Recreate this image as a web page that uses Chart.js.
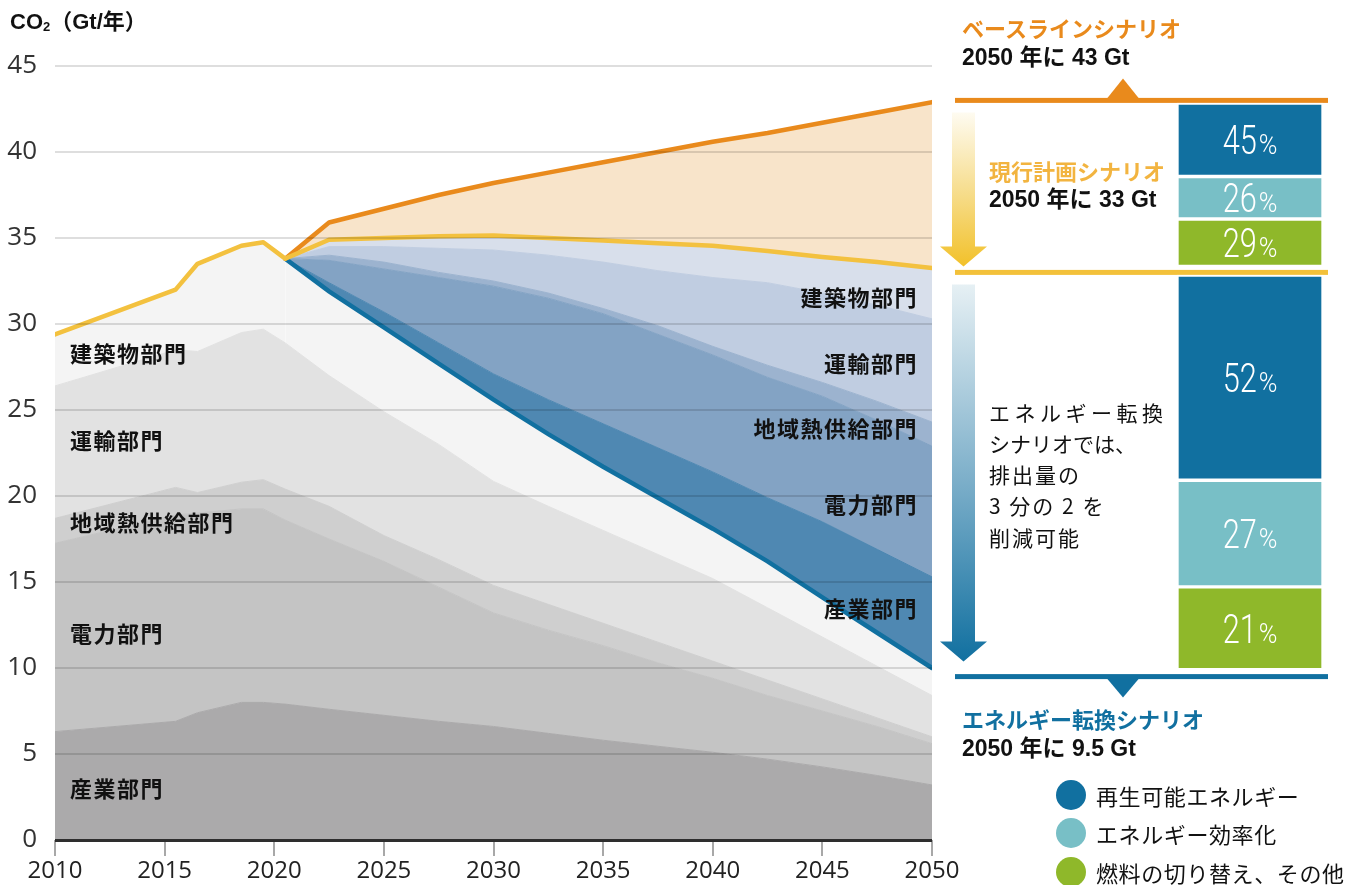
<!DOCTYPE html>
<html lang="ja">
<head>
<meta charset="utf-8">
<script src="https://cdn.jsdelivr.net/npm/chart.js@4.4.1/dist/chart.umd.min.js"></script>
<style>
html,body{margin:0;padding:0;background:#fff;}
#wrap{position:relative;width:1354px;height:885px;overflow:hidden;font-family:'Noto Sans CJK JP',sans-serif;}
#main{position:absolute;left:0;top:0;}
#bars{position:absolute;left:1177px;top:0;}
.t{position:absolute;white-space:nowrap;transform:translateY(-50%);line-height:1;z-index:2;}
.sec{font-family:'Noto Sans CJK JP',sans-serif;font-weight:700;font-size:22px;letter-spacing:1.5px;color:#111;}
.num{font-family:'Liberation Sans','Noto Sans CJK JP',sans-serif;font-weight:700;font-size:23px;color:#111;}
.hd{font-family:'Noto Sans CJK JP',sans-serif;font-weight:700;font-size:22px;}
.blk{font-family:'Noto Sans CJK JP',sans-serif;font-size:21px;letter-spacing:2px;color:#111;}
.lg{font-family:'Noto Sans CJK JP',sans-serif;font-size:22px;letter-spacing:0.6px;color:#111;}
.dot{position:absolute;width:30px;height:30px;border-radius:50%;transform:translate(-50%,-50%);}
.ttl{position:absolute;left:10px;top:22px;transform:translateY(-50%);font-family:'Liberation Sans','Noto Sans CJK JP',sans-serif;font-weight:700;font-size:22px;color:#111;white-space:nowrap;line-height:1;}
.ttl sub{font-size:13px;vertical-align:-2px;}
</style>
</head>
<body>
<div id="wrap">
  <canvas id="main" width="1354" height="885"></canvas>
  <canvas id="bars" width="146" height="885"></canvas>

  <div class="ttl">CO<sub>2</sub>（Gt/年）</div>

  <div class="t sec" style="left:70px;top:352px">建築物部門</div>
  <div class="t sec" style="left:70px;top:439px">運輸部門</div>
  <div class="t sec" style="left:70px;top:521px">地域熱供給部門</div>
  <div class="t sec" style="left:70px;top:632px">電力部門</div>
  <div class="t sec" style="left:70px;top:787px">産業部門</div>

  <div class="t sec" style="right:436px;top:296px">建築物部門</div>
  <div class="t sec" style="right:436px;top:362px">運輸部門</div>
  <div class="t sec" style="right:436px;top:427px">地域熱供給部門</div>
  <div class="t sec" style="right:436px;top:503px">電力部門</div>
  <div class="t sec" style="right:436px;top:607px">産業部門</div>

  <div class="t hd" style="left:962px;top:27px;color:#e98a1c">ベースラインシナリオ</div>
  <div class="t num" style="left:962px;top:57px">2050 年に 43 Gt</div>
  <div class="t hd" style="left:989px;top:170px;color:#f2b440">現行計画シナリオ</div>
  <div class="t num" style="left:989px;top:199px">2050 年に 33 Gt</div>

  <div class="t blk" style="left:989px;top:412px;letter-spacing:4.5px">エネルギー転換</div>
  <div class="t blk" style="left:989px;top:443px;letter-spacing:0px">シナリオでは、</div>
  <div class="t blk" style="left:989px;top:474px">排出量の</div>
  <div class="t blk" style="left:989px;top:505px">3 分の 2 を</div>
  <div class="t blk" style="left:989px;top:537px">削減可能</div>

  <div class="t hd" style="left:962px;top:718px;color:#1170a0">エネルギー転換シナリオ</div>
  <div class="t num" style="left:962px;top:748px">2050 年に 9.5 Gt</div>

  <div class="dot" style="left:1071px;top:795px;background:#1170a0"></div>
  <div class="dot" style="left:1071px;top:833px;background:#78bfc6"></div>
  <div class="dot" style="left:1071px;top:872px;background:#8fb82a"></div>
  <div class="t lg" style="left:1096px;top:795px">再生可能エネルギー</div>
  <div class="t lg" style="left:1096px;top:833px">エネルギー効率化</div>
  <div class="t lg" style="left:1096px;top:872px">燃料の切り替え、その他</div>
</div>

<script>
// ---- Data (Gt CO2 per year) ----
const years = [2010, 2015.5, 2016.5, 2018.5, 2019.5, 2020.5, 2022.5, 2025, 2027.5, 2030, 2032.5, 2035, 2037.5, 2040, 2042.5, 2045, 2047.5, 2050];

// Energy transition scenario emissions by sector (historical until 2020)
const industry     = [6.3, 6.9, 7.4, 8.0, 8.0, 7.9, 7.6, 7.25, 6.9, 6.6, 6.2, 5.8, 5.45, 5.1, 4.7, 4.25, 3.75, 3.2];
const power        = [10.95, 12.0, 11.6, 11.25, 11.25, 10.7, 9.9, 8.95, 7.8, 6.6, 6.0, 5.5, 4.85, 4.3, 3.7, 3.25, 2.85, 2.4];
const districtHeat = [1.45, 1.6, 1.2, 1.55, 1.7, 1.8, 1.9, 1.5, 1.6, 1.6, 1.5, 1.3, 1.2, 1.0, 0.9, 0.7, 0.5, 0.4];
const transport    = [7.7, 8.0, 8.2, 8.7, 8.75, 8.5, 7.6, 7.2, 6.7, 6.05, 5.7, 5.4, 5.1, 4.8, 4.2, 3.6, 3.0, 2.4];
const buildings    = [3.0, 3.5, 5.1, 5.05, 5.05, 4.9, 4.9, 4.9, 4.7, 4.75, 4.2, 3.7, 3.3, 2.9, 2.7, 2.3, 1.95, 1.6];

// Reductions (current plan minus energy transition) by sector
const savIndustry     = [0, 0, 0, 0, 0, 0, 0.5, 0.9, 1.2, 1.5, 2.0, 2.5, 2.9, 3.3, 3.7, 4.4, 4.85, 5.3];
const savPower        = [0, 0, 0, 0, 0, 0, 1.3, 2.5, 3.8, 5.1, 5.9, 6.4, 6.6, 6.8, 7.0, 7.3, 7.5, 7.6];
const savDistrictHeat = [0, 0, 0, 0, 0, 0, 0.3, 0.4, 0.3, 0.3, 0.3, 0.3, 0.5, 0.5, 0.7, 0.8, 1.1, 1.4];
const savTransport    = [0, 0, 0, 0, 0, 0, 0.5, 0.9, 1.4, 1.8, 2.2, 2.7, 3.2, 4.0, 4.8, 5.2, 5.6, 6.0];
const savBuildings    = [0, 0, 0, 0, 0, 0, 0.4, 0.5, 0.7, 0.85, 1.0, 1.25, 1.6, 1.85, 1.85, 2.1, 2.5, 2.95];

// Scenario totals
const currentPlan = [29.4, 32.0, 33.5, 34.55, 34.75, 33.8, 34.9, 35.0, 35.1, 35.15, 35.0, 34.85, 34.7, 34.55, 34.25, 33.9, 33.6, 33.25];
const baseline    = [null, null, null, null, null, 33.8, 35.9, 36.7, 37.5, 38.2, 38.8, 39.4, 40.0, 40.6, 41.1, 41.7, 42.3, 42.9];

const xTicks = [2010, 2015, 2020, 2025, 2030, 2035, 2040, 2045, 2050];
const xTickLabels = ['2010', '2015', '2020', '2025', '2030', '2035', '2040', '2045', '2050'];
const yTicks = [0, 5, 10, 15, 20, 25, 30, 35, 40, 45];
const yTickLabels = ['0', '5', '10', '15', '20', '25', '30', '35', '40', '45'];

// 2050 levels: baseline, current plan, energy transition
const scenario2050 = [43, 33, 9.5];

// Reduction shares (%): renewables, efficiency, fuel switch & other
const sharesBaseToPlan = [45, 26, 29];
const sharesPlanToTransition = [52, 27, 21];
const stackSpanUpper = [42.85, 33.35];
const stackSpanLower = [32.85, 9.9];

// ---- Main chart ----
const pts = arr => years.map((x, i) => ({x: x, y: arr[i]})).filter(p => p.y !== null);
const band = (label, arr, color, fill) => ({
  label, data: pts(arr), backgroundColor: color, borderColor: color, borderWidth: 1,
  fill, pointRadius: 0, stack: 'sectors'
});

const bldg = band('建築物部門', buildings, '#f4f4f4', '-1');
bldg.borderWidth = 4.5;
bldg.borderCapStyle = 'round';
bldg.segment = { borderColor: c => c.p0.parsed.x >= 2020.5 ? '#1170a0' : 'rgba(0,0,0,0)' };

const datasets = [
  { label: '現行計画シナリオ', data: pts(currentPlan), borderColor: '#f3c13f', borderWidth: 4.5,
    fill: false, pointRadius: 0, stack: 'plan', borderCapStyle: 'round', borderJoinStyle: 'round' },
  { label: 'ベースラインシナリオ', data: pts(baseline), borderColor: '#e98a1c', borderWidth: 4.5,
    backgroundColor: '#f8e4ca', fill: { target: 0 }, pointRadius: 0, stack: 'base',
    borderCapStyle: 'round', borderJoinStyle: 'round' },
  band('産業部門', industry, '#abaaab', 'origin'),
  band('電力部門', power, '#c4c4c4', '-1'),
  band('地域熱供給部門', districtHeat, '#cfcfcf', '-1'),
  band('運輸部門', transport, '#e2e2e2', '-1'),
  bldg,
  band('産業部門 削減', savIndustry, '#4f88b2', '-1'),
  band('電力部門 削減', savPower, '#83a3c4', '-1'),
  band('地域熱供給部門 削減', savDistrictHeat, '#9cb3cf', '-1'),
  band('運輸部門 削減', savTransport, '#c0cde1', '-1'),
  band('建築物部門 削減', savBuildings, '#d8dfeb', '-1')
];

function drawArrow(ctx, top, tip, stops) {
  const g = ctx.createLinearGradient(0, top, 0, tip);
  g.addColorStop(0, stops[0]); g.addColorStop(0.55, stops[1]); g.addColorStop(1, stops[2]);
  ctx.fillStyle = g;
  const cx = 963.5, hw = 11.5, HW = 23.5, hl = 20;
  ctx.beginPath();
  ctx.moveTo(cx - hw, top); ctx.lineTo(cx + hw, top); ctx.lineTo(cx + hw, tip - hl);
  ctx.lineTo(cx + HW, tip - hl); ctx.lineTo(cx, tip); ctx.lineTo(cx - HW, tip - hl);
  ctx.lineTo(cx - hw, tip - hl); ctx.closePath(); ctx.fill();
}

const markerPlugin = {
  id: 'markers',
  afterDraw(chart) {
    const ctx = chart.ctx, y = chart.scales.y;
    const yb = y.getPixelForValue(scenario2050[0]);
    const yp = y.getPixelForValue(scenario2050[1]);
    const yt = y.getPixelForValue(scenario2050[2]);
    ctx.save();
    [[yb, '#e98a1c'], [yp, '#f3c13a'], [yt, '#1170a0']].forEach(([yy, c]) => {
      ctx.fillStyle = c; ctx.fillRect(955, yy - 2.5, 373, 5);
    });
    ctx.fillStyle = '#e98a1c';
    ctx.beginPath(); ctx.moveTo(1107, yb - 2); ctx.lineTo(1123, yb - 22); ctx.lineTo(1139, yb - 2); ctx.fill();
    ctx.fillStyle = '#1170a0';
    ctx.beginPath(); ctx.moveTo(1107, yt + 2); ctx.lineTo(1123, yt + 21); ctx.lineTo(1139, yt + 2); ctx.fill();
    drawArrow(ctx, yb + 12, yp - 6, ['#fefbf1', '#f6db86', '#f2c12a']);
    drawArrow(ctx, yp + 12, yt - 15, ['#e6f0f4', '#76abc7', '#1170a0']);
    ctx.restore();
  }
};

new Chart(document.getElementById('main'), {
  type: 'line',
  data: { datasets },
  options: {
    responsive: false, animation: false, devicePixelRatio: 1,
    layout: { padding: { top: 66, right: 422, left: 0, bottom: 0 } },
    plugins: { legend: { display: false }, tooltip: { enabled: false } },
    elements: { line: { tension: 0 }, point: { radius: 0 } },
    scales: {
      x: {
        type: 'linear', min: 2010, max: 2050,
        afterBuildTicks: a => { a.ticks = xTicks.map(v => ({ value: v })); },
        afterFit: a => { a.height = 45; },
        grid: { drawOnChartArea: false, drawTicks: true, tickLength: 16, color: '#a8a8a8', lineWidth: 2 },
        border: { display: false },
        ticks: { padding: 1, color: '#222', font: { family: "'Open Sans', sans-serif", size: 24 },
                 maxRotation: 0, autoSkip: false, callback: (v, i) => xTickLabels[i] }
      },
      y: {
        stacked: true, min: 0, max: 45,
        afterBuildTicks: a => { a.ticks = yTicks.map(v => ({ value: v })); },
        afterFit: a => { a.width = 55; },
        grid: {
          drawTicks: false, z: 1,
          color: c => (c.tick && c.tick.value === 0) ? '#2e2e2e' : 'rgba(0,0,0,0.13)',
          lineWidth: c => (c.tick && c.tick.value === 0) ? 3 : 2
        },
        border: { display: false },
        ticks: { padding: 18, color: '#333', font: { family: "'Open Sans', sans-serif", size: 26 },
                 callback: (v, i) => yTickLabels[i] }
      }
    }
  },
  plugins: [markerPlugin]
});

// ---- Share bars ----
const barColors = ['#1170a0', '#78bfc6', '#8fb82a'];
function segments(span, shares) {
  let hi = span[0];
  const range = span[0] - span[1];
  return shares.map(s => { const lo = hi - range * s / 100; const seg = [lo, hi]; hi = lo; return seg; });
}
const upperSegs = segments(stackSpanUpper, sharesBaseToPlan);
const lowerSegs = segments(stackSpanLower, sharesPlanToTransition);
const barSets = [];
upperSegs.forEach((s, i) => barSets.push({ data: [s], backgroundColor: barColors[i], share: sharesBaseToPlan[i] }));
lowerSegs.forEach((s, i) => barSets.push({ data: [s], backgroundColor: barColors[i], share: sharesPlanToTransition[i] }));
barSets.forEach(d => Object.assign(d, {
  grouped: false, barPercentage: 1, categoryPercentage: 1,
  borderWidth: 2, borderColor: '#ffffff', borderSkipped: false
}));

const pctPlugin = {
  id: 'pct',
  afterDatasetsDraw(chart) {
    const ctx = chart.ctx;
    chart.data.datasets.forEach((ds, i) => {
      const bar = chart.getDatasetMeta(i).data[0];
      const cx = bar.x, cy = (bar.y + bar.base) / 2;
      const num = String(ds.share);
      ctx.save();
      ctx.fillStyle = '#ffffff';
      ctx.textBaseline = 'alphabetic';
      ctx.font = "300 41px Roboto, 'Open Sans', sans-serif";
      const sx = 0.75;
      const wNum = ctx.measureText(num).width * sx;
      ctx.font = "300 28px Roboto, 'Open Sans', sans-serif";
      const wPct = ctx.measureText('%').width * 0.9;
      const gap = 2;
      const x0 = cx - (wNum + gap + wPct) / 2;
      const base = cy + 14.5;
      ctx.save();
      ctx.translate(x0, base); ctx.scale(sx, 1);
      ctx.font = "300 41px Roboto, 'Open Sans', sans-serif";
      ctx.fillText(num, 0, 0);
      ctx.restore();
      ctx.save();
      ctx.translate(x0 + wNum + gap, base); ctx.scale(0.9, 1);
      ctx.font = "300 28px Roboto, 'Open Sans', sans-serif";
      ctx.fillText('%', 0, 0);
      ctx.restore();
      ctx.restore();
    });
  }
};

new Chart(document.getElementById('bars'), {
  type: 'bar',
  data: { labels: ['2050'], datasets: barSets },
  options: {
    responsive: false, animation: false, devicePixelRatio: 1,
    layout: { padding: { top: 66, bottom: 45, left: 0, right: 0 } },
    plugins: { legend: { display: false }, tooltip: { enabled: false } },
    scales: {
      x: { display: false },
      y: { display: false, min: 0, max: 45 }
    }
  },
  plugins: [pctPlugin]
});
</script>
</body>
</html>
